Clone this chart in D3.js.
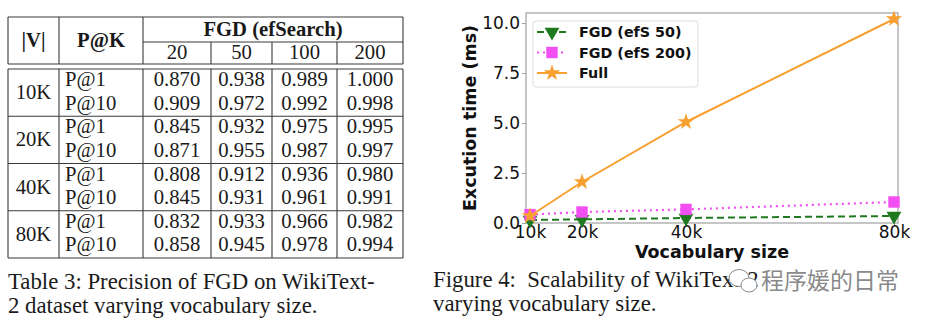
<!DOCTYPE html>
<html>
<head>
<meta charset="utf-8">
<script src="https://cdn.jsdelivr.net/npm/d3@7"></script>
<style>
  html, body { margin: 0; padding: 0; background: #fff; }
  svg { display: block; }
</style>
</head>
<body>
<svg id="root" width="932" height="324"></svg>
<script>
// ---------------- DATA ----------------
// Table 3
const vocabGroups = ["10K", "20K", "40K", "80K"];
const precisionAt = ["P@1", "P@10"];
const efSearchValues = ["20", "50", "100", "200"];
const precisionP1 = [
  [0.870, 0.938, 0.989, 1.000],
  [0.845, 0.932, 0.975, 0.995],
  [0.808, 0.912, 0.936, 0.980],
  [0.832, 0.933, 0.966, 0.982]
];
const precisionP10 = [
  [0.909, 0.972, 0.992, 0.998],
  [0.871, 0.955, 0.987, 0.997],
  [0.845, 0.931, 0.961, 0.991],
  [0.858, 0.945, 0.978, 0.994]
];
const tableCaption = ["Table 3: Precision of FGD on WikiText-", "2 dataset varying vocabulary size."];

// Figure 4
const vocabSizes = [10, 20, 40, 80];
const xTickLabels = ["10k", "20k", "40k", "80k"];
const yTickValues = [0, 2.5, 5, 7.5, 10];
const seriesNames = ["FGD (efS 50)", "FGD (efS 200)", "Full"];
const fgdEfs50 = [0.15, 0.18, 0.25, 0.35];
const fgdEfs200 = [0.42, 0.55, 0.68, 1.05];
const fullSearch = [0.35, 2.05, 5.05, 10.2];
const figureCaption = ["Figure 4:  Scalability of WikiText-2 model", "varying vocabulary size."];
const watermarkText = "程序媛的日常";

// ---------------- DRAW ----------------
const svg = d3.select("#root");
const serif = "'Liberation Serif', 'Times New Roman', serif";
const sans = "'DejaVu Sans', sans-serif";
const lineColor = "#3a3a3a";

// ===== TABLE =====
const table = svg.append("g");
const colEdges = [8, 59, 143, 211, 272, 337, 403];
const headTop = 17, headMid = 42, headBottom = 64, bodyTop = 69, bodyBottom = 258;
const groupY = d3.scaleBand().domain(vocabGroups).range([bodyTop, bodyBottom]);
const numCol = d3.scaleBand().domain(efSearchValues).range([0, 4]);
const colCenter = i => (colEdges[i] + colEdges[i + 1]) / 2;
const ln = (x1, y1, x2, y2) => table.append("line")
  .attr("x1", x1).attr("y1", y1).attr("x2", x2).attr("y2", y2)
  .attr("stroke", lineColor).attr("stroke-width", 1.1);

// header box
ln(colEdges[0], headTop, colEdges[6], headTop);
ln(colEdges[2], headMid, colEdges[6], headMid);
ln(colEdges[0], headBottom, colEdges[6], headBottom);
[0, 1, 2, 6].forEach(i => ln(colEdges[i], headTop, colEdges[i], headBottom));
[3, 4, 5].forEach(i => ln(colEdges[i], headMid, colEdges[i], headBottom));
// body box
ln(colEdges[0], bodyTop, colEdges[6], bodyTop);
vocabGroups.forEach(g => ln(colEdges[0], groupY(g) + groupY.bandwidth(), colEdges[6], groupY(g) + groupY.bandwidth()));
colEdges.forEach(x => ln(x, bodyTop, x, bodyBottom));

const ttext = (x, y, s, opts = {}) => table.append("text")
  .attr("x", x).attr("y", y)
  .attr("text-anchor", opts.anchor || "middle")
  .attr("font-family", serif)
  .attr("font-size", opts.size || 20.7)
  .attr("font-weight", opts.bold ? "bold" : "normal")
  .attr("fill", "#1a1a1a")
  .text(s);

ttext(colCenter(0), 47, "|V|", { bold: true });
ttext(colCenter(1), 47, "P@K", { bold: true });
ttext((colEdges[2] + colEdges[6]) / 2, 36, "FGD (efSearch)", { bold: true });
efSearchValues.forEach((v, i) => ttext(colCenter(2 + i), 59, v));

vocabGroups.forEach((g, gi) => {
  const top = groupY(g);
  ttext(colCenter(0), top + 30, g);
  const rows = [precisionP1[gi], precisionP10[gi]];
  precisionAt.forEach((p, ri) => {
    const by = top + 17 + ri * 23.5;
    ttext(65, by, p, { anchor: "start" });
    efSearchValues.forEach((e, ci) => ttext(colCenter(2 + numCol(e)), by, d3.format(".3f")(rows[ri][ci])));
  });
});

tableCaption.forEach((s, i) => ttext(8, 289 + i * 24, s, { anchor: "start", size: 22.8 }));

// ===== CHART =====
const plot = { left: 526, right: 898, top: 13, bottom: 223 };
const x = d3.scaleLinear().domain([9.23, 80.77]).range([plot.left, plot.right]);
const y = d3.scaleLinear().domain([0, 10.5]).range([plot.bottom, plot.top]);
const chart = svg.append("g");

chart.append("rect")
  .attr("x", plot.left).attr("y", plot.top)
  .attr("width", plot.right - plot.left).attr("height", plot.bottom - plot.top)
  .attr("fill", "none").attr("stroke", "#a0a0a0").attr("stroke-width", 1.2);

const yAxis = chart.append("g").attr("transform", `translate(${plot.left},0)`)
  .call(d3.axisLeft(y).tickValues(yTickValues).tickFormat(d3.format(".1f")).tickSize(4).tickPadding(2));
const xAxis = chart.append("g").attr("transform", `translate(0,${plot.bottom})`)
  .call(d3.axisBottom(x).tickValues(vocabSizes).tickFormat((d, i) => xTickLabels[i]).tickSize(3).tickPadding(0));
[xAxis, yAxis].forEach(a => {
  a.select(".domain").remove();
  a.selectAll(".tick line").attr("stroke", "#a0a0a0");
  a.selectAll(".tick text").attr("font-family", sans).attr("font-size", 17).attr("fill", "#111");
});

chart.append("text")
  .attr("transform", `translate(476,${(plot.top + plot.bottom) / 2}) rotate(-90)`)
  .attr("text-anchor", "middle")
  .attr("font-family", sans).attr("font-weight", "bold").attr("font-size", 17.5)
  .attr("fill", "#111")
  .text("Excution time (ms)");
chart.append("text")
  .attr("x", (plot.left + plot.right) / 2).attr("y", 258)
  .attr("text-anchor", "middle")
  .attr("font-family", sans).attr("font-weight", "bold").attr("font-size", 17.5)
  .attr("fill", "#111")
  .text("Vocabulary size");

const series = [
  { name: seriesNames[0], values: fgdEfs50, color: "#1f7a1f", dash: "7,4", symbol: "tri", width: 2 },
  { name: seriesNames[1], values: fgdEfs200, color: "#f24ff2", dash: "2,4", symbol: "square", width: 2.2 },
  { name: seriesNames[2], values: fullSearch, color: "#f7a030", dash: null, symbol: "star", width: 2 }
];

const symbolPath = (type) => {
  if (type === "square") return d3.symbol(d3.symbolSquare, 130)();
  if (type === "star") return d3.symbol(d3.symbolStar, 85)();
  return d3.symbol(d3.symbolTriangle, 95)();
};
const line = d3.line().x((d, i) => x(vocabSizes[i])).y(d => y(d));

series.forEach(s => {
  chart.append("path")
    .attr("d", line(s.values))
    .attr("fill", "none").attr("stroke", s.color)
    .attr("stroke-width", s.width)
    .attr("stroke-dasharray", s.dash);
  chart.selectAll(null).data(s.values).enter().append("path")
    .attr("d", symbolPath(s.symbol))
    .attr("transform", (d, i) => `translate(${x(vocabSizes[i])},${y(d)})` + (s.symbol === "tri" ? " rotate(180)" : ""))
    .attr("fill", s.color);
});

// legend
const lg = chart.append("g").attr("transform", "translate(533,21)");
lg.append("rect").attr("width", 165).attr("height", 66).attr("rx", 3)
  .attr("fill", "#fff").attr("fill-opacity", 0.85).attr("stroke", "#dcdcdc");
series.forEach((s, i) => {
  const yy = 11 + i * 20.5;
  lg.append("line").attr("x1", 4).attr("x2", 34).attr("y1", yy).attr("y2", yy)
    .attr("stroke", s.color).attr("stroke-width", s.width).attr("stroke-dasharray", s.dash);
  lg.append("path").attr("d", symbolPath(s.symbol))
    .attr("transform", `translate(19,${yy})` + (s.symbol === "tri" ? " rotate(180)" : ""))
    .attr("fill", s.color);
  lg.append("text").attr("x", 46).attr("y", yy + 5)
    .attr("font-family", sans).attr("font-weight", "bold").attr("font-size", 14.3)
    .attr("fill", "#111").text(s.name);
});

// figure caption
figureCaption.forEach((s, i) => svg.append("text")
  .attr("x", 433).attr("y", 287 + i * 23.5)
  .attr("font-family", serif).attr("font-size", 22.8).attr("fill", "#1a1a1a")
  .attr("xml:space", "preserve").style("white-space", "pre")
  .text(s));

// watermark overlay
const wm = svg.append("g").attr("transform", "translate(742,281)");
wm.append("ellipse").attr("rx", 10).attr("ry", 8.5).attr("cx", -3).attr("cy", -3)
  .attr("fill", "#fff").attr("stroke", "#8a8a8a").attr("stroke-width", 1);
wm.append("ellipse").attr("rx", 8).attr("ry", 7).attr("cx", 7).attr("cy", 4)
  .attr("fill", "#fff").attr("stroke", "#8a8a8a").attr("stroke-width", 1);
wm.append("text").attr("x", 19).attr("y", 8)
  .attr("font-family", "'Noto Sans CJK SC', sans-serif").attr("font-size", 23)
  .attr("fill", "none").attr("stroke", "#fff").attr("stroke-width", 5)
  .text(watermarkText);
wm.append("text").attr("x", 19).attr("y", 8)
  .attr("font-family", "'Noto Sans CJK SC', sans-serif").attr("font-size", 23)
  .attr("fill", "#7a7a7a").attr("fill-opacity", 0.9)
  .text(watermarkText);
</script>
</body>
</html>
